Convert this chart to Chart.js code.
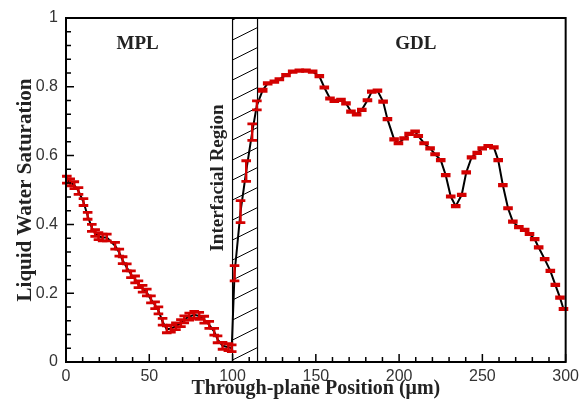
<!DOCTYPE html>
<html>
<head>
<meta charset="utf-8">
<script src="https://cdn.jsdelivr.net/npm/chart.js@4/dist/chart.umd.min.js"></script>
<style>
html, body { margin: 0; padding: 0; background: #fff; }
</style>
</head>
<body>
<canvas id="satPlot" width="584" height="404"></canvas>
<script>
// through-plane position (um)
const positions = [
    0.5, 2.5, 5, 7.5, 10.5, 13, 15.5, 17.5, 19.5, 22, 24.5, 29.5, 32, 34, 36.5, 39, 41.5, 43.5, 46, 48.5,
    51, 53.5, 55.5, 58, 60.5, 63, 66, 69, 71, 74, 77, 80, 83, 86, 89, 91, 94, 97.5, 99.5,
    // interfacial region
    101.2, 104.8, 108.2, 111.8, 114.6,
    // GDL
    118.1, 121.1, 125.1, 128.1, 132.1, 136.1, 140.1, 144.1, 148.1, 152.1, 155.1, 158.5, 161.1, 165.1, 168.1,
    171.1, 174.5, 177.6, 181, 183.6, 187, 190.4, 193, 197, 199.6, 203, 206, 209.6, 211.5, 215, 218.6, 221.6,
    225, 228, 231, 234, 237.6, 240.3, 243.5, 246.9, 249.9, 253.5, 256.9, 259.5, 262.3, 265.4, 268.3, 271.9,
    275.4, 278.3, 281.4, 283.8, 287.4, 290.8, 293.8, 296.6, 298.7
];
// liquid water saturation
const saturation = [
    0.530, 0.522, 0.514, 0.497, 0.465, 0.425, 0.390, 0.375, 0.366, 0.362, 0.362, 0.338, 0.318, 0.296, 0.275, 0.255, 0.240, 0.226, 0.213, 0.202,
    0.182, 0.165, 0.150, 0.117, 0.095, 0.097, 0.104, 0.113, 0.124, 0.132, 0.137, 0.134, 0.123, 0.108, 0.088, 0.066, 0.047, 0.043, 0.040,
    0.258, 0.437, 0.555, 0.668, 0.746,
    0.790, 0.810, 0.815, 0.822, 0.834, 0.844, 0.847, 0.847, 0.844, 0.831, 0.798, 0.766, 0.759, 0.762, 0.752,
    0.728, 0.720, 0.733, 0.761, 0.786, 0.789, 0.757, 0.706, 0.647, 0.636, 0.650, 0.663, 0.670, 0.657, 0.636, 0.621, 0.604,
    0.587, 0.543, 0.481, 0.453, 0.486, 0.551, 0.595, 0.608, 0.621, 0.628, 0.624, 0.587, 0.514, 0.447, 0.408, 0.392,
    0.384, 0.372, 0.357, 0.333, 0.299, 0.265, 0.224, 0.187, 0.154
];
// half height of each error bar
const errHalf = [
    0.010, 0.010, 0.010, 0.010, 0.010, 0.010, 0.010, 0.010, 0.010, 0.010, 0.010, 0.010, 0.010, 0.010, 0.010, 0.010, 0.010, 0.010, 0.010, 0.010,
    0.010, 0.010, 0.010, 0.010, 0.010, 0.010, 0.010, 0.010, 0.010, 0.010, 0.010, 0.010, 0.010, 0.010, 0.010, 0.010, 0.010, 0.010, 0.010,
    0.022, 0.032, 0.030, 0.024, 0.013,
    0.003, 0.002, 0.002, 0.002, 0.002, 0.002, 0.002, 0.002, 0.002, 0.002, 0.002, 0.002, 0.002, 0.002, 0.002,
    0.002, 0.002, 0.002, 0.002, 0.002, 0.002, 0.002, 0.002, 0.002, 0.002, 0.002, 0.002, 0.002, 0.002, 0.002, 0.002, 0.002,
    0.002, 0.002, 0.002, 0.002, 0.002, 0.002, 0.002, 0.002, 0.002, 0.002, 0.002, 0.002, 0.002, 0.002, 0.002, 0.002,
    0.002, 0.002, 0.002, 0.002, 0.002, 0.002, 0.002, 0.002, 0.002
];
// interfacial region bounds (um)
const interfaceStart = 100;
const interfaceEnd = 115;

const color_red = '#d30000';
const serif = "'Liberation Serif', 'Times New Roman', serif";
const sans = "'Liberation Sans', Arial, sans-serif";

// region labels, in data coords
const regionLabels = [
    { text: 'MPL', x: 43, y: 0.924, rotate: false },
    { text: 'GDL', x: 210, y: 0.924, rotate: false },
    { text: 'Interfacial Region', x: 91.6, y: 0.535, rotate: true }
];

const plotData = positions.map((x, i) => ({ x: x, y: saturation[i] }));

// hatched interfacial band, frame and inward tick marks
const framePlugin = {
    id: 'frame',
    beforeDatasetsDraw(chart) {
        const { ctx, chartArea: a, scales: { x } } = chart;
        const l = x.getPixelForValue(interfaceStart);
        const r = x.getPixelForValue(interfaceEnd);
        ctx.save();
        ctx.beginPath();
        ctx.rect(l, a.top, r - l, a.bottom - a.top);
        ctx.clip();
        ctx.strokeStyle = '#000';
        ctx.lineWidth = 1;
        ctx.beginPath();
        for (let yy = a.top + 2; yy < a.bottom + 40; yy += 20) {
            ctx.moveTo(l, yy);
            ctx.lineTo(r, yy - (r - l) * 0.5);
        }
        ctx.stroke();
        ctx.restore();
        ctx.save();
        ctx.strokeStyle = '#000';
        ctx.lineWidth = 1.2;
        ctx.beginPath();
        ctx.moveTo(l, a.top); ctx.lineTo(l, a.bottom);
        ctx.moveTo(r, a.top); ctx.lineTo(r, a.bottom);
        ctx.stroke();
        ctx.restore();
    },
    afterDatasetsDraw(chart) {
        const { ctx, chartArea: a, scales: { x, y } } = chart;
        ctx.save();
        // error bars
        ctx.strokeStyle = color_red;
        positions.forEach((p, i) => {
            const px = x.getPixelForValue(p);
            const lo = y.getPixelForValue(saturation[i] - errHalf[i]);
            const hi = y.getPixelForValue(saturation[i] + errHalf[i]);
            ctx.lineWidth = 2.4;
            ctx.beginPath();
            ctx.moveTo(px, lo); ctx.lineTo(px, hi);
            ctx.stroke();
            ctx.lineWidth = 2.8;
            ctx.beginPath();
            ctx.moveTo(px - 4.8, lo); ctx.lineTo(px + 4.8, lo);
            ctx.moveTo(px - 4.8, hi); ctx.lineTo(px + 4.8, hi);
            ctx.stroke();
        });
        // labels
        ctx.fillStyle = '#222';
        ctx.font = 'bold 19px ' + serif;
        ctx.textAlign = 'center';
        ctx.textBaseline = 'middle';
        regionLabels.forEach(lb => {
            const px = x.getPixelForValue(lb.x);
            const py = y.getPixelForValue(lb.y);
            ctx.save();
            ctx.translate(px, py);
            if (lb.rotate) ctx.rotate(-Math.PI / 2);
            ctx.fillText(lb.text, 0, 0);
            ctx.restore();
        });
        // frame
        ctx.strokeStyle = '#000';
        ctx.lineWidth = 2;
        ctx.strokeRect(a.left, a.top, a.right - a.left, a.bottom - a.top);
        // inward ticks, bottom and left only
        ctx.lineWidth = 1.5;
        ctx.beginPath();
        for (let v = 0; v <= 300; v += 10) {
            const px = x.getPixelForValue(v);
            const len = v % 50 === 0 ? 8 : 5;
            ctx.moveTo(px, a.bottom); ctx.lineTo(px, a.bottom - len);
        }
        for (let k = 0; k <= 25; k++) {
            const py = y.getPixelForValue(k * 0.04);
            const len = k % 5 === 0 ? 8 : 5;
            ctx.moveTo(a.left, py); ctx.lineTo(a.left + len, py);
        }
        ctx.stroke();
        ctx.restore();
    }
};

const config = {
    type: 'line',
    data: {
        datasets: [{
            data: plotData,
            borderColor: '#000',
            borderWidth: 2,
            pointRadius: 0,
            tension: 0,
            fill: false
        }]
    },
    options: {
        responsive: false,
        animation: false,
        layout: { padding: { top: 18, right: 15, left: 0, bottom: 0 } },
        plugins: { legend: { display: false }, tooltip: { enabled: false } },
        scales: {
            x: {
                type: 'linear',
                min: 0,
                max: 300,
                afterFit: (s) => { s.height = 42; },
                grid: { display: false, drawTicks: false },
                border: { display: false },
                ticks: {
                    stepSize: 50,
                    padding: 5,
                    color: '#333',
                    font: { size: 16, family: sans },
                    maxRotation: 0
                },
                title: {
                    display: true,
                    text: 'Through-plane Position (\u03bcm)',
                    color: '#222',
                    font: { size: 20, weight: 'bold', family: serif },
                    padding: { top: 0, bottom: 3 }
                }
            },
            y: {
                min: 0,
                max: 1,
                afterFit: (s) => { s.width = 66; },
                grid: { display: false, drawTicks: false },
                border: { display: false },
                ticks: {
                    stepSize: 0.2,
                    padding: 8,
                    color: '#333',
                    font: { size: 16, family: sans },
                    callback: (v) => String(+v.toFixed(1))
                },
                title: {
                    display: true,
                    text: 'Liquid Water Saturation',
                    color: '#222',
                    font: { size: 21, weight: 'bold', family: serif },
                    padding: { top: 13, bottom: 0 }
                }
            }
        }
    },
    plugins: [framePlugin]
};

new Chart(document.getElementById('satPlot').getContext('2d'), config);
</script>
</body>
</html>
